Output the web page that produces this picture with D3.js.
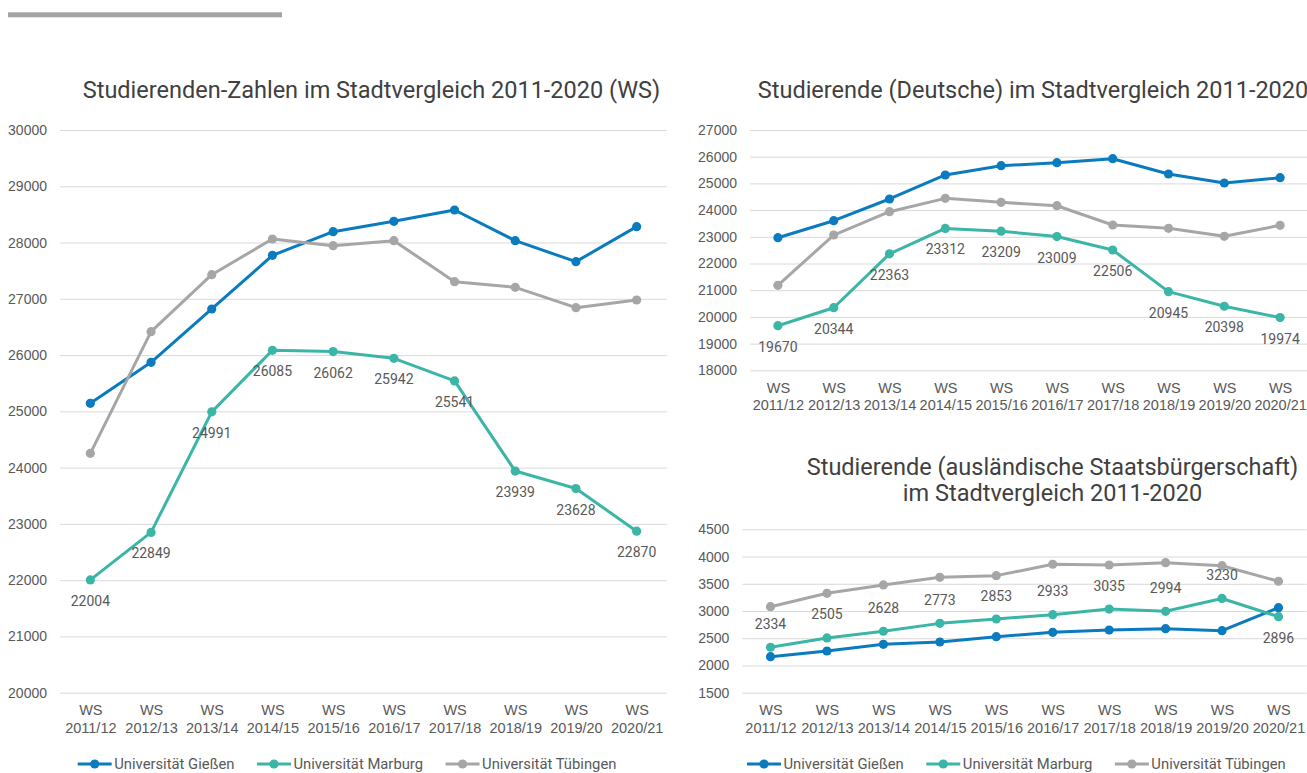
<!DOCTYPE html>
<html lang="de">
<head>
<meta charset="utf-8">
<title>Studierenden-Zahlen im Stadtvergleich</title>
<script src="https://cdn.jsdelivr.net/npm/d3@7/dist/d3.min.js"></script>
<style>
  html, body { margin: 0; padding: 0; background: #ffffff; }
  svg { display: block; font-family: Roboto, "Noto Sans", sans-serif; }
</style>
</head>
<body>
<svg id="chart" width="1307" height="773"></svg>
<script>
// Wintersemester
const semesters = ["2011/12", "2012/13", "2013/14", "2014/15", "2015/16",
                   "2016/17", "2017/18", "2018/19", "2019/20", "2020/21"];

const universities = ["Universität Gießen", "Universität Marburg", "Universität Tübingen"];

// Studierende gesamt
const totalGiessen   = [25143, 25871, 26819, 27772, 28193, 28377, 28578, 28033, 27660, 28282];
const totalMarburg   = [22004, 22849, 24991, 26085, 26062, 25942, 25541, 23939, 23628, 22870];
const totalTuebingen = [24254, 26416, 27429, 28063, 27944, 28033, 27305, 27204, 26843, 26979];

// Studierende mit deutscher Staatsbürgerschaft
const deutschGiessen   = [22966, 23603, 24416, 25315, 25663, 25775, 25925, 25352, 25015, 25213];
const deutschMarburg   = [19670, 20344, 22363, 23312, 23209, 23009, 22506, 20945, 20398, 19974];
const deutschTuebingen = [21183, 23067, 23940, 24440, 24290, 24164, 23442, 23318, 23017, 23430];

// Studierende mit ausländischer Staatsbürgerschaft
const auslGiessen   = [2161, 2266, 2389, 2431, 2528, 2609, 2651, 2675, 2638, 3061];
const auslMarburg   = [2334, 2505, 2628, 2773, 2853, 2933, 3035, 2994, 3230, 2896];
const auslTuebingen = [3079, 3325, 3478, 3619, 3649, 3858, 3845, 3887, 3832, 3546];

// Achsenbeschriftungen
const ticksTotal   = [20000, 21000, 22000, 23000, 24000, 25000, 26000, 27000, 28000, 29000, 30000];
const ticksDeutsch = [18000, 19000, 20000, 21000, 22000, 23000, 24000, 25000, 26000, 27000];
const ticksAusl    = [1500, 2000, 2500, 3000, 3500, 4000, 4500];

const colors = ["#0a7bbf", "#3bb5a6", "#a6a6a6"];
const textColor = "#595959";
const titleColor = "#404040";
const gridColor = "#d9d9d9";

const svg = d3.select("#chart");

// Dekorative Leiste oben links
svg.append("rect")
  .attr("x", 8).attr("y", 12.3).attr("width", 274).attr("height", 5)
  .attr("fill", "#a3a3a3");

function drawChart(cfg) {
  const g = svg.append("g");

  const x = d3.scalePoint().domain(semesters).range([cfg.x0, cfg.x1]).padding(0.5);
  const y = d3.scaleLinear().domain(cfg.domain).range([cfg.yBottom, cfg.yTop]);

  // Titel
  const title = g.append("text")
    .attr("text-anchor", "middle")
    .attr("fill", titleColor)
    .style("font-size", "23.5px");
  cfg.title.forEach((line, i) => {
    title.append("tspan")
      .attr("x", cfg.titleX)
      .attr("y", cfg.titleY + i * cfg.titleLead)
      .attr("dominant-baseline", "central")
      .text(line);
  });

  // Y-Achse mit Gitterlinien
  const yAxis = g.append("g")
    .attr("transform", `translate(${cfg.x0},0)`)
    .call(d3.axisLeft(y)
      .tickValues(cfg.ticks)
      .tickSize(-(cfg.x1 - cfg.x0))
      .tickPadding(13)
      .tickFormat(d3.format("d")));
  yAxis.select(".domain").remove();
  yAxis.selectAll(".tick line").attr("stroke", gridColor).attr("stroke-width", 1);
  yAxis.selectAll(".tick text")
    .attr("fill", textColor)
    .style("font-size", "14px");

  // X-Achse: zweizeilige Beschriftung "WS" / Semester
  const xAxis = g.append("g")
    .attr("transform", `translate(0,${cfg.yBottom})`)
    .call(d3.axisBottom(x).tickSize(0).tickPadding(0));
  xAxis.select(".domain").remove();
  xAxis.selectAll(".tick text").each(function (d) {
    const t = d3.select(this);
    t.text(null).attr("y", null).attr("dy", null)
      .attr("fill", textColor).style("font-size", "14.5px");
    t.append("tspan").attr("x", 0).attr("y", 17.3)
      .attr("dominant-baseline", "central").text("WS");
    t.append("tspan").attr("x", 0).attr("y", 35)
      .attr("dominant-baseline", "central").text(d);
  });

  // Linien mit Markern
  const line = d3.line()
    .x((d, i) => x(semesters[i]))
    .y(d => y(d));

  cfg.series.forEach((vals, s) => {
    const sg = g.append("g");
    sg.append("path")
      .datum(vals)
      .attr("d", line)
      .attr("fill", "none")
      .attr("stroke", colors[s])
      .attr("stroke-width", 3)
      .attr("stroke-linejoin", "round");
    sg.selectAll("circle")
      .data(vals)
      .join("circle")
      .attr("cx", (d, i) => x(semesters[i]))
      .attr("cy", d => y(d))
      .attr("r", 4.6)
      .attr("fill", colors[s]);
  });

  // Datenbeschriftungen der Marburger Reihe
  const labelled = cfg.series[1];
  g.append("g").selectAll("text")
    .data(labelled)
    .join("text")
    .attr("x", (d, i) => x(semesters[i]))
    .attr("y", (d, i) => y(d) + (cfg.labelBelow(i) ? 21 : -23.5))
    .attr("text-anchor", "middle")
    .attr("dominant-baseline", "central")
    .attr("fill", textColor)
    .style("font-size", "14px")
    .text(d => d);

  // Legende
  if (cfg.legend) {
    const lg = g.append("g");
    let cx = cfg.legendX;
    universities.forEach((name, s) => {
      lg.append("line")
        .attr("x1", cx).attr("x2", cx + 34)
        .attr("y1", cfg.legendY).attr("y2", cfg.legendY)
        .attr("stroke", colors[s]).attr("stroke-width", 3);
      lg.append("circle")
        .attr("cx", cx + 17).attr("cy", cfg.legendY).attr("r", 4.6)
        .attr("fill", colors[s]);
      const t = lg.append("text")
        .attr("x", cx + 36.5).attr("y", cfg.legendY)
        .attr("dominant-baseline", "central")
        .attr("fill", textColor)
        .style("font-size", "14.8px")
        .text(name);
      cx += 36.5 + t.node().getComputedTextLength() + 22.5;
    });
  }
}

drawChart({
  title: ["Studierenden-Zahlen im Stadtvergleich 2011-2020 (WS)"],
  titleX: 371.5, titleY: 90, titleLead: 0,
  x0: 60, x1: 667, yTop: 130, yBottom: 692.7,
  domain: [20000, 30000], ticks: ticksTotal,
  series: [totalGiessen, totalMarburg, totalTuebingen],
  labelBelow: () => true,
  legend: true, legendX: 77.7, legendY: 764
});

drawChart({
  title: ["Studierende (Deutsche) im Stadtvergleich 2011-2020"],
  titleX: 1033, titleY: 90, titleLead: 0,
  x0: 750, x1: 1308, yTop: 130, yBottom: 370.3,
  domain: [18000, 27000], ticks: ticksDeutsch,
  series: [deutschGiessen, deutschMarburg, deutschTuebingen],
  labelBelow: () => true,
  legend: false
});

drawChart({
  title: ["Studierende (ausländische Staatsbürgerschaft)", "im Stadtvergleich 2011-2020"],
  titleX: 1052.5, titleY: 466.7, titleLead: 26.6,
  x0: 742.3, x1: 1306.7, yTop: 529.3, yBottom: 692.7,
  domain: [1500, 4500], ticks: ticksAusl,
  series: [auslGiessen, auslMarburg, auslTuebingen],
  labelBelow: i => i === semesters.length - 1,
  legend: true, legendX: 747, legendY: 764
});
</script>
</body>
</html>
